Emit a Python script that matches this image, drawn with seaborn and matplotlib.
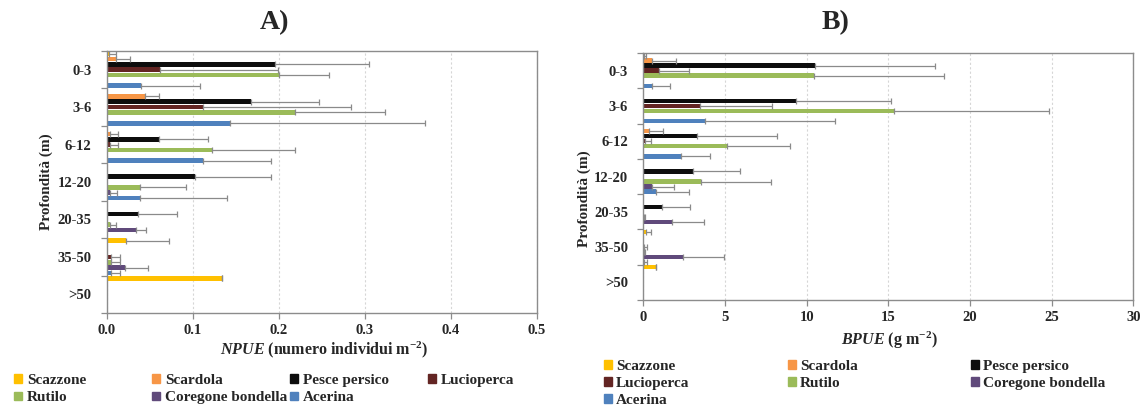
import matplotlib
matplotlib.use("Agg")
import matplotlib.pyplot as plt
import numpy as np
import pandas as pd
import seaborn as sns

# ---- data -------------------------------------------------------------
depths = ["0-3", "3-6", "6-12", "12-20", "20-35", "35-50", ">50"]
species = ["Scazzone", "Scardola", "Pesce persico", "Lucioperca",
           "Rutilo", "Coregone bondella", "Acerina"]
colors = ["#FFC000", "#F79646", "#0D0D0D", "#632523",
          "#9BBB59", "#604A7B", "#4F81BD"]

# NPUE (individuals m-2): mean and standard deviation by depth layer
npue_scazzone = [0.002, 0.0, 0.0, 0.0, 0.0, 0.022, 0.134]
npue_scardola = [0.010, 0.044, 0.004, 0.0, 0.0, 0.0, 0.0]
npue_persico = [0.195, 0.168, 0.060, 0.102, 0.036, 0.0, 0.0]
npue_lucioperca = [0.062, 0.112, 0.004, 0.0, 0.0, 0.005, 0.0]
npue_rutilo = [0.200, 0.219, 0.122, 0.038, 0.003, 0.005, 0.0]
npue_coregone = [0.0, 0.0, 0.0, 0.003, 0.034, 0.021, 0.0]
npue_acerina = [0.039, 0.143, 0.112, 0.038, 0.0, 0.005, 0.0]

npue_sd_scazzone = [0.008, 0.0, 0.0, 0.0, 0.0, 0.050, 0.0]
npue_sd_scardola = [0.017, 0.016, 0.009, 0.0, 0.0, 0.0, 0.0]
npue_sd_persico = [0.110, 0.079, 0.057, 0.089, 0.045, 0.0, 0.0]
npue_sd_lucioperca = [0.137, 0.172, 0.009, 0.0, 0.0, 0.010, 0.0]
npue_sd_rutilo = [0.058, 0.104, 0.097, 0.054, 0.008, 0.010, 0.0]
npue_sd_coregone = [0.0, 0.0, 0.0, 0.009, 0.011, 0.027, 0.0]
npue_sd_acerina = [0.069, 0.227, 0.079, 0.102, 0.0, 0.010, 0.0]

# BPUE (g m-2): mean and standard deviation by depth layer
bpue_scazzone = [0.05, 0.0, 0.0, 0.0, 0.0, 0.15, 0.78]
bpue_scardola = [0.53, 0.0, 0.35, 0.0, 0.0, 0.0, 0.0]
bpue_persico = [10.51, 9.33, 3.31, 3.02, 1.12, 0.0, 0.0]
bpue_lucioperca = [0.98, 3.49, 0.10, 0.0, 0.0, 0.05, 0.0]
bpue_rutilo = [10.45, 15.35, 5.14, 3.53, 0.05, 0.03, 0.0]
bpue_coregone = [0.0, 0.0, 0.0, 0.51, 1.74, 2.45, 0.0]
bpue_acerina = [0.55, 3.76, 2.29, 0.78, 0.0, 0.05, 0.0]

bpue_sd_scazzone = [0.10, 0.0, 0.0, 0.0, 0.0, 0.30, 0.0]
bpue_sd_scardola = [1.47, 0.0, 0.85, 0.0, 0.0, 0.0, 0.0]
bpue_sd_persico = [7.35, 5.84, 4.86, 2.90, 1.74, 0.0, 0.0]
bpue_sd_lucioperca = [1.84, 4.41, 0.35, 0.0, 0.0, 0.20, 0.0]
bpue_sd_rutilo = [7.98, 9.50, 3.82, 4.29, 0.08, 0.05, 0.0]
bpue_sd_coregone = [0.0, 0.0, 0.0, 1.37, 1.98, 2.51, 0.0]
bpue_sd_acerina = [1.10, 7.98, 1.79, 2.04, 0.0, 0.20, 0.0]

npue = dict(zip(species, [npue_scazzone, npue_scardola, npue_persico,
                          npue_lucioperca, npue_rutilo, npue_coregone,
                          npue_acerina]))
npue_sd = dict(zip(species, [npue_sd_scazzone, npue_sd_scardola,
                             npue_sd_persico, npue_sd_lucioperca,
                             npue_sd_rutilo, npue_sd_coregone,
                             npue_sd_acerina]))
bpue = dict(zip(species, [bpue_scazzone, bpue_scardola, bpue_persico,
                          bpue_lucioperca, bpue_rutilo, bpue_coregone,
                          bpue_acerina]))
bpue_sd = dict(zip(species, [bpue_sd_scazzone, bpue_sd_scardola,
                             bpue_sd_persico, bpue_sd_lucioperca,
                             bpue_sd_rutilo, bpue_sd_coregone,
                             bpue_sd_acerina]))

npue_ticks = [0.0, 0.1, 0.2, 0.3, 0.4, 0.5]
npue_ticklabels = ["0.0", "0.1", "0.2", "0.3", "0.4", "0.5"]
bpue_ticks = [0, 5, 10, 15, 20, 25, 30]
bpue_ticklabels = ["0", "5", "10", "15", "20", "25", "30"]

# ---- style ------------------------------------------------------------
sns.set_theme(style="white")
plt.rcParams["font.family"] = ["Liberation Serif", "DejaVu Serif"]
plt.rcParams["font.weight"] = "bold"
plt.rcParams["mathtext.fontset"] = "custom"
plt.rcParams["mathtext.rm"] = "Liberation Serif:bold"
plt.rcParams["mathtext.it"] = "Liberation Serif:italic:bold"
plt.rcParams["mathtext.bf"] = "Liberation Serif:bold"

SPINE = "#8c8c8c"
ERR = "#8a8a8a"
W, H = 1141, 409

fig = plt.figure(figsize=(W / 100, H / 100), dpi=100)
axA = fig.add_axes([107 / W, 1 - 313 / H, 430 / W, 262 / H])
axB = fig.add_axes([643.3 / W, 1 - 300 / H, 490 / W, 247 / H])


def draw_panel(ax, values, errors, ticks, ticklabels):
    rows = [dict(depth=d, species=sp, value=values[sp][i])
            for sp in species for i, d in enumerate(depths)]
    df = pd.DataFrame(rows)
    sns.barplot(data=df, y="depth", x="value", hue="species",
                order=depths, hue_order=species, palette=colors,
                orient="h", width=1.0, gap=0.12, errorbar=None,
                saturation=1, linewidth=0, legend=False, ax=ax)
    # one-sided (upper) standard deviation whiskers on each bar
    for sp, cont in zip(species, ax.containers):
        for patch in cont.patches:
            yc = patch.get_y() + patch.get_height() / 2
            idx = int(round(yc))
            v = values[sp][idx]
            if v <= 0:
                continue
            ax.errorbar(patch.get_width(), yc, xerr=[[0], [errors[sp][idx]]],
                        fmt="none", ecolor=ERR, elinewidth=0.9,
                        capsize=2.0, capthick=0.9, zorder=3)
    ax.set_xlim(ticks[0], ticks[-1])
    ax.set_ylim(len(depths) - 0.5, -0.5)
    ax.set_xticks(ticks)
    ax.set_xticklabels(ticklabels, fontsize=10.5, fontweight="bold")
    ax.set_yticks(range(len(depths)))
    ax.set_yticklabels(depths, fontsize=10.5, fontweight="bold")
    ax.set_yticks(np.arange(-0.5, len(depths)), minor=True)
    ax.tick_params(axis="y", which="major", length=0, pad=11)
    ax.tick_params(axis="y", which="minor", length=4, width=0.9,
                   color=SPINE, direction="out", left=True)
    ax.tick_params(axis="x", which="major", length=4, width=0.9,
                   color=SPINE, direction="out", bottom=True, pad=4)
    ax.xaxis.grid(True, linestyle=(0, (2, 2)), color="#d6d6d6", lw=0.8)
    ax.yaxis.grid(False)
    ax.set_axisbelow(True)
    for s in ax.spines.values():
        s.set_visible(True)
        s.set_color(SPINE)
        s.set_linewidth(1.0)


draw_panel(axA, npue, npue_sd, npue_ticks, npue_ticklabels)
draw_panel(axB, bpue, bpue_sd, bpue_ticks, bpue_ticklabels)

axA.set_ylabel("Profondità (m)", fontsize=11, fontweight="bold")
axA.yaxis.set_label_coords(-0.126, 0.5)
axA.set_xlabel(r"$NPUE$ (numero individui m$^{-2}$)", fontsize=11.5,
               fontweight="bold")
axA.xaxis.set_label_coords(0.505, -0.10)

axB.set_ylabel("Profondità (m)", fontsize=11, fontweight="bold")
axB.yaxis.set_label_coords(-0.106, 0.41)
axB.set_xlabel(r"$BPUE$ (g m$^{-2}$)", fontsize=11.5, fontweight="bold")
axB.xaxis.set_label_coords(0.502, -0.12)

fig.text(274 / W, 1 - 23 / H, "A)", fontsize=20, fontweight="bold",
         ha="center", va="center")
fig.text(836 / W, 1 - 23 / H, "B)", fontsize=20, fontweight="bold",
         ha="center", va="center")

# ---- legends: one block per column --------------------------------------
handles = {sp: plt.Rectangle((0, 0), 1, 1, color=c)
           for sp, c in zip(species, colors)}


def legend_column(names, x_px, top_px, fs, spacing, pad=0.35):
    fig.legend([handles[n] for n in names], names, loc="upper left",
               bbox_to_anchor=(x_px / W, 1 - top_px / H), frameon=False,
               borderpad=0, borderaxespad=0, handlelength=0.5,
               handleheight=0.5, handletextpad=pad, labelspacing=spacing,
               prop=dict(family="Liberation Serif", weight="bold", size=fs))


legend_column(["Scazzone", "Rutilo"], 14, 374, 11, 0.28)
legend_column(["Scardola", "Coregone bondella"], 152, 374, 11, 0.28)
legend_column(["Pesce persico", "Acerina"], 290, 374, 11, 0.28)
legend_column(["Lucioperca"], 428, 374, 11, 0.28)

legend_column(["Scazzone", "Lucioperca", "Acerina"], 604, 360, 11, 0.26, 0.28)
legend_column(["Scardola", "Rutilo"], 788, 360, 11, 0.26, 0.28)
legend_column(["Pesce persico", "Coregone bondella"], 971, 360, 11, 0.26, 0.28)

fig.savefig("out.png", dpi=100)
